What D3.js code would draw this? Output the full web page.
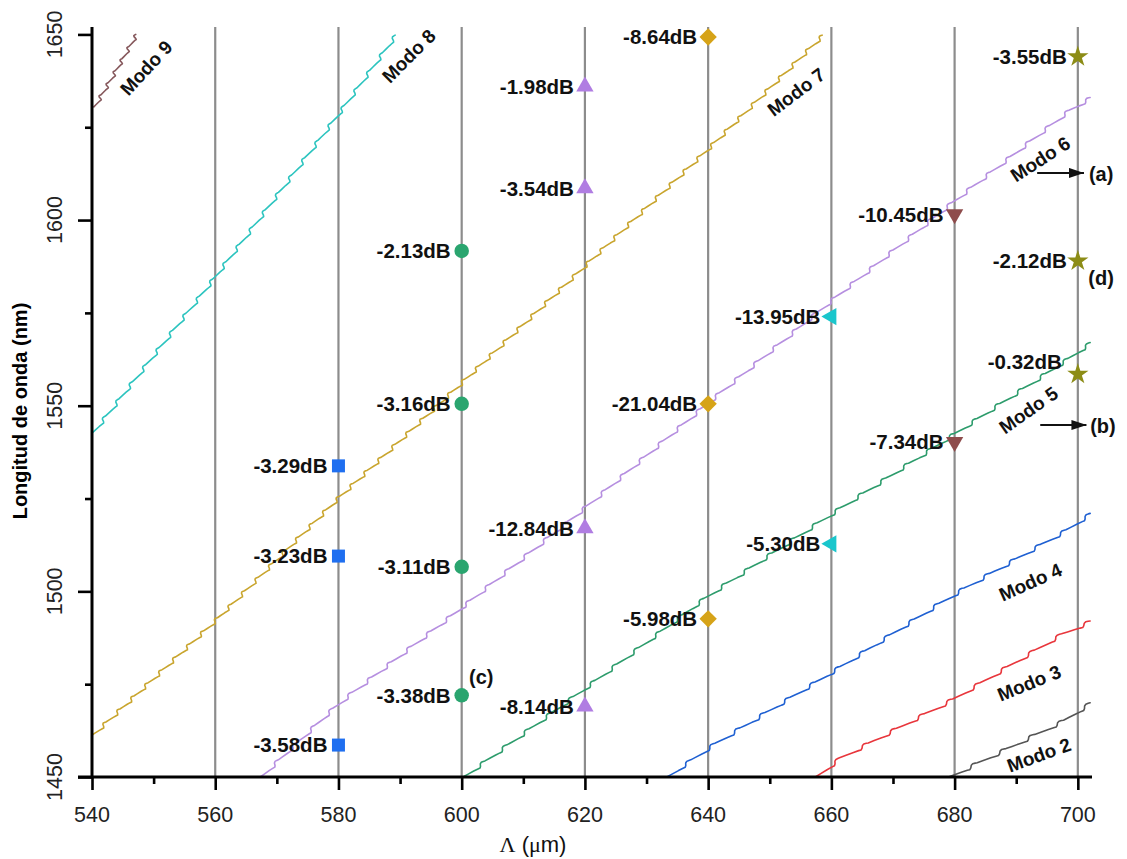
<!DOCTYPE html>
<html>
<head>
<meta charset="utf-8">
<script src="https://cdn.jsdelivr.net/npm/d3@7"></script>
<style>
  html, body { margin: 0; padding: 0; background: #fff; }
  svg { display: block; font-family: "Liberation Sans", Arial, sans-serif; }
</style>
</head>
<body>
<svg id="chart" width="1127" height="859"></svg>
<script>
// ---- Mode curves: [period Λ (µm), wavelength (nm)] ----
const mode9 = [[540.3, 1630.5], [543.5, 1639.5], [547.1, 1650]];
const mode8 = [[540, 1542.6], [560, 1585], [580, 1628.8], [589.2, 1649.8]];
const mode7 = [[540, 1461.3], [560, 1492.3], [580, 1525.4], [600, 1556.4], [620, 1587.9], [640, 1619.4], [658.5, 1649.8]];
const mode6 = [[567.3, 1450], [580, 1470], [600, 1495.8], [620, 1522.7], [640, 1551], [660, 1578.5], [680, 1605.4], [700, 1631.5], [702, 1633]];
const mode5 = [[600.2, 1450], [620, 1474], [640, 1499], [660, 1521], [680, 1542.6], [700, 1564.5], [702, 1567]];
const mode4 = [[633.3, 1450], [640, 1458], [660, 1478.3], [680, 1499.5], [700, 1518.4], [702, 1521]];
const mode3 = [[657.4, 1450], [660, 1454], [680, 1471.3], [700, 1491.2], [702, 1492]];
const mode2 = [[679, 1450], [700, 1467.2], [702, 1470]];
const modeNames = ["Modo 9", "Modo 8", "Modo 7", "Modo 6", "Modo 5", "Modo 4", "Modo 3", "Modo 2"];
const modeCurves = [mode9, mode8, mode7, mode6, mode5, mode4, mode3, mode2];

// ---- Measured resonances: wavelength (nm) and attenuation (dB) per grating period ----
const squareLambda = 580;
const squareWl = [1533.8, 1509.5, 1458.6];
const squareDb = [-3.29, -3.23, -3.58];

const circleLambda = 600;
const circleWl = [1591.7, 1550.5, 1506.6, 1472];
const circleDb = [-2.13, -3.16, -3.11, -3.38];

const triUpLambda = 620;
const triUpWl = [1636, 1608.6, 1517, 1469];
const triUpDb = [-1.98, -3.54, -12.84, -8.14];

const diamondLambda = 640;
const diamondWl = [1649.3, 1550.5, 1492.6];
const diamondDb = [-8.64, -21.04, -5.98];

const triLeftLambda = 660;
const triLeftWl = [1574, 1512.8];
const triLeftDb = [-13.95, -5.30];

const triDownLambda = 680;
const triDownWl = [1601.6, 1540.2];
const triDownDb = [-10.45, -7.34];

const starLambda = 700;
const starWl = [1644, 1589, 1558.5];
const starDb = [-3.55, -2.12, -0.32];

// ---- Axis ticks ----
const xTicks = d3.range(540, 701, 10);
const xLabelTicks = [540, 560, 580, 600, 620, 640, 660, 680, 700];
const yTicks = d3.range(1450, 1651, 25);
const yLabelTicks = [1450, 1500, 1550, 1600, 1650];
const gridLambdas = [560, 580, 600, 620, 640, 660, 680, 700];

// ---- Styling ----
const modeColors = ["#86585c", "#2cc4bf", "#c9a52e", "#b68fe0", "#2d9c6c", "#1f60d2", "#e8363c", "#555555"];
const rippleStep = [14, 22, 19, 25, 27, 30, 32, 30];
const modeLabelAt = [[548.8, 1641, -47], [591.4, 1644.2, -45], [654.3, 1634.5, -37], [693.9, 1616.4, -33],
                     [692.0, 1548.8, -35], [692.3, 1502.5, -24], [692.1, 1475.3, -22], [693.7, 1455.9, -20]];

const svg = d3.select("#chart");
const x = d3.scaleLinear().domain([540, 702.3]).range([92, 1092]);
const y = d3.scaleLinear().domain([1450, 1652]).range([777, 27]);

// Staircase-like rendering of a smooth trend: each step runs slightly flat, then jogs up.
function curveRipple(step, amp) {
  return function (context) {
    let pts;
    return {
      areaStart() {}, areaEnd() {},
      lineStart() { pts = []; },
      point(px, py) { pts.push([+px, +py]); },
      lineEnd() {
        if (pts.length < 2) return;
        const segs = [];
        let total = 0;
        for (let i = 1; i < pts.length; i++) {
          const l = Math.hypot(pts[i][0] - pts[i - 1][0], pts[i][1] - pts[i - 1][1]);
          segs.push(l); total += l;
        }
        const at = s => {
          let i = 0;
          while (i < segs.length - 1 && s > segs[i]) { s -= segs[i]; i++; }
          const t = segs[i] ? Math.min(1, s / segs[i]) : 0;
          return [pts[i][0] + t * (pts[i + 1][0] - pts[i][0]), pts[i][1] + t * (pts[i + 1][1] - pts[i][1])];
        };
        const n = Math.max(1, Math.round(total / step));
        const shape = [[0.2, 0.35], [0.45, 0.8], [0.62, 1.2], [0.7, 1.45], [0.75, 0.9], [0.8, -0.2], [0.86, -0.55], [0.94, -0.3]];
        context.moveTo(pts[0][0], pts[0][1]);
        for (let k = 0; k < n; k++) {
          const a = at(total * k / n), b = at(total * (k + 1) / n);
          const dx = b[0] - a[0], dy = b[1] - a[1], L = Math.hypot(dx, dy) || 1;
          const nx = -dy / L, ny = dx / L;
          for (const [t, o] of shape) context.lineTo(a[0] + dx * t + nx * amp * o, a[1] + dy * t + ny * amp * o);
          context.lineTo(b[0], b[1]);
        }
      }
    };
  };
}

// Vertical reference lines at the measured grating periods
svg.append("g").selectAll("line").data(gridLambdas).join("line")
  .attr("x1", d => x(d)).attr("x2", d => x(d))
  .attr("y1", y(1652)).attr("y2", y(1450))
  .attr("stroke", "#8c8c8c").attr("stroke-width", 2.2);

// Mode curves
modeCurves.forEach((pts, i) => {
  const line = d3.line().x(d => x(d[0])).y(d => y(d[1])).curve(curveRipple(rippleStep[i], 2));
  svg.append("path").attr("d", line(pts))
    .attr("fill", "none").attr("stroke", modeColors[i]).attr("stroke-width", 1.6)
    .attr("stroke-linejoin", "round").attr("stroke-linecap", "round");
});

// Mode labels
svg.append("g").selectAll("text").data(modeNames).join("text")
  .attr("transform", (d, i) => `translate(${x(modeLabelAt[i][0])},${y(modeLabelAt[i][1])}) rotate(${modeLabelAt[i][2]})`)
  .attr("text-anchor", "middle").attr("dy", "0.35em")
  .attr("font-size", 19).attr("font-weight", "bold").attr("fill", "#111")
  .text(d => d);

// Axes
const yAxis = svg.append("g").attr("transform", `translate(${x(540)},0)`)
  .call(d3.axisLeft(y).tickValues(yTicks).tickSizeOuter(0).tickFormat(""));
yAxis.select(".domain").attr("stroke-width", 3).attr("d", `M0,${y(1652)}V${y(1450) + 1.5}`);
yAxis.selectAll(".tick line").attr("stroke-width", 2.6)
  .attr("x2", d => yLabelTicks.includes(d) ? -14 : -7);

const xAxis = svg.append("g").attr("transform", `translate(0,${y(1450)})`)
  .call(d3.axisBottom(x).tickValues(xTicks).tickSizeOuter(0).tickFormat(""));
xAxis.select(".domain").attr("stroke-width", 3).attr("d", `M${x(540) - 14},0H${x(702.3)}`);
xAxis.selectAll(".tick line").attr("stroke-width", 2.6)
  .attr("y2", d => xLabelTicks.includes(d) ? 13 : 7);

svg.append("g").selectAll("text").data(yLabelTicks).join("text")
  .attr("transform", d => `translate(62,${y(d)}) rotate(-90)`)
  .attr("text-anchor", "middle").attr("font-size", 21.5).attr("fill", "#222")
  .text(d => d);

svg.append("g").selectAll("text").data(xLabelTicks).join("text")
  .attr("x", d => x(d)).attr("y", 822)
  .attr("text-anchor", "middle").attr("font-size", 21.5).attr("fill", "#222")
  .text(d => d);

svg.append("text")
  .attr("transform", "translate(27,411) rotate(-90)")
  .attr("text-anchor", "middle").attr("font-size", 20).attr("font-weight", "bold")
  .text("Longitud de onda (nm)");

const xt = svg.append("text").attr("x", 533).attr("y", 852)
  .attr("text-anchor", "middle").attr("font-size", 22).attr("fill", "#111");
xt.append("tspan").attr("font-family", "Liberation Serif, serif").text("Λ");
xt.append("tspan").text(" (");
xt.append("tspan").attr("font-family", "Liberation Serif, serif").text("μ");
xt.append("tspan").text("m)");

// Resonance markers
const groups = [
  { lam: squareLambda, wl: squareWl, db: squareDb, type: d3.symbolSquare, size: 169, rot: 0, color: "#1f6ff0" },
  { lam: circleLambda, wl: circleWl, db: circleDb, type: d3.symbolCircle, size: 165, rot: 0, color: "#2aa56f" },
  { lam: triUpLambda, wl: triUpWl, db: triUpDb, type: d3.symbolTriangle, size: 130, rot: 0, color: "#b07de2" },
  { lam: diamondLambda, wl: diamondWl, db: diamondDb, type: d3.symbolSquare, size: 150, rot: 45, color: "#d6a318" },
  { lam: triLeftLambda, wl: triLeftWl, db: triLeftDb, type: d3.symbolTriangle, size: 130, rot: -90, color: "#1ac6cc" },
  { lam: triDownLambda, wl: triDownWl, db: triDownDb, type: d3.symbolTriangle, size: 130, rot: 180, color: "#8e4c4c" },
  { lam: starLambda, wl: starWl, db: starDb, type: d3.symbolStar, size: 140, rot: 0, color: "#8c8c16" }
];
const points = groups.flatMap((g, gi) => g.wl.map((w, k) => ({ g, gi, k, lam: g.lam, wl: w, db: g.db[k] })));
// label nudges in pixels (group index, point index)
const labelNudge = { "6-2": [-5, -13] };

svg.append("g").selectAll("path").data(points).join("path")
  .attr("transform", d => `translate(${x(d.lam)},${y(d.wl)}) rotate(${d.g.rot})`)
  .attr("d", d => d3.symbol().type(d.g.type).size(d.g.size)())
  .attr("fill", d => d.g.color);

svg.append("g").selectAll("text").data(points).join("text")
  .attr("x", d => x(d.lam) - 11 + (labelNudge[`${d.gi}-${d.k}`] || [0, 0])[0])
  .attr("y", d => y(d.wl) + (labelNudge[`${d.gi}-${d.k}`] || [0, 0])[1])
  .attr("dy", "0.36em").attr("text-anchor", "end")
  .attr("font-size", 20.5).attr("font-weight", "bold").attr("fill", "#111")
  .text(d => d.db.toFixed(2) + "dB");

// Annotations (a)-(d)
svg.append("defs").append("marker").attr("id", "head")
  .attr("viewBox", "0 0 15 10").attr("refX", 15).attr("refY", 5)
  .attr("markerWidth", 15).attr("markerHeight", 10).attr("markerUnits", "userSpaceOnUse")
  .attr("orient", "auto")
  .append("path").attr("d", "M0,0L15,5L0,10Z").attr("fill", "#111");

const arrows = [[693.4, 701.0, 1612.7], [693.9, 701.4, 1544.8]];
svg.append("g").selectAll("line").data(arrows).join("line")
  .attr("x1", d => x(d[0])).attr("x2", d => x(d[1]))
  .attr("y1", d => y(d[2])).attr("y2", d => y(d[2]))
  .attr("stroke", "#111").attr("stroke-width", 2).attr("marker-end", "url(#head)");

const notes = [["(a)", 701.8, 1612.4], ["(b)", 702.0, 1544.6], ["(c)", 601.2, 1477], ["(d)", 701.7, 1584.4]];
svg.append("g").selectAll("text").data(notes).join("text")
  .attr("x", d => x(d[1])).attr("y", d => y(d[2])).attr("dy", "0.36em")
  .attr("font-size", 20).attr("font-weight", "bold").attr("fill", "#111")
  .text(d => d[0]);
</script>
</body>
</html>
